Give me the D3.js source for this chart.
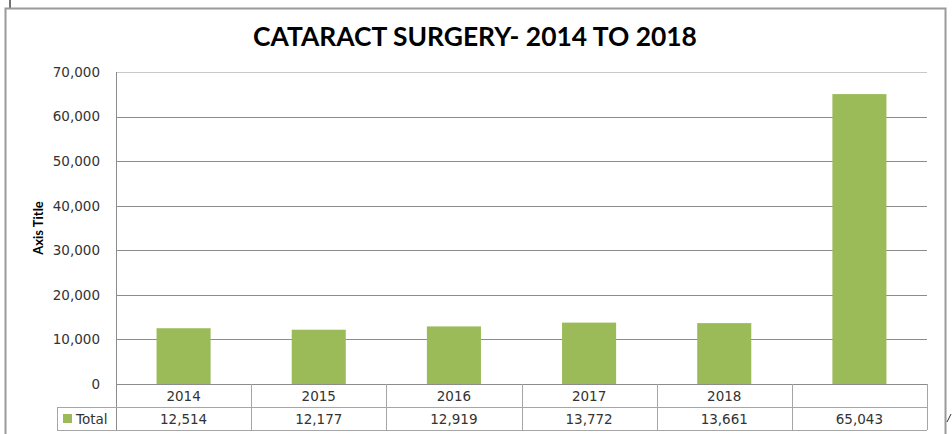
<!DOCTYPE html>
<head>
  <meta charset="utf-8">
  <title>Cataract Surgery 2014 to 2018</title>
  <style>
  body { margin: 0; background: #fff; }
  .title { font: bold 26.4px Lato, sans-serif; fill: #000; }
  .tick text, .cell { font: 13.5px "DejaVu Sans", sans-serif; fill: #333; }
  .axisLabel { font: bold 13px Lato, sans-serif; fill: #000; }
  </style>
</head>
<body>
  <script src="https://cdn.jsdelivr.net/npm/d3@7"></script>
  <script>
    // values
    const categories = ["2014", "2015", "2016", "2017", "2018", ""];
    const totals = [12514, 12177, 12919, 13772, 13661, 65043];
    const yTicks = [0, 10000, 20000, 30000, 40000, 50000, 60000, 70000];
    const seriesName = "Total";

    const width = 952, height = 434;
    const plot = { left: 116, right: 927, top: 72, bottom: 384 };
    const rowH = 23;
    const green = "#9bbb59";

    const svg = d3.select("body").append("svg")
      .attr("width", width)
      .attr("height", height);

    // chart frame
    svg.append("line")
      .attr("x1", 10).attr("x2", 10).attr("y1", 0).attr("y2", 8)
      .attr("stroke", "#444").attr("stroke-width", 1.5);
    svg.append("rect")
      .attr("x", 5.5).attr("y", 8.5)
      .attr("width", 940).attr("height", 440)
      .attr("fill", "#fff")
      .attr("stroke", "#9a9a9a").attr("stroke-width", 2);
    svg.append("line")
      .attr("x1", 947).attr("y1", 422).attr("x2", 951).attr("y2", 414)
      .attr("stroke", "#333").attr("stroke-width", 1);

    const x = d3.scaleBand()
      .domain(d3.range(categories.length))
      .range([plot.left, plot.right])
      .padding(0);
    const y = d3.scaleLinear()
      .domain([0, 70000])
      .range([plot.bottom, plot.top]);

    // gridlines
    svg.append("g")
      .selectAll("line")
      .data(yTicks)
      .enter()
      .append("line")
      .attr("x1", plot.left).attr("x2", plot.right)
      .attr("y1", d => Math.round(y(d)) + 0.5)
      .attr("y2", d => Math.round(y(d)) + 0.5)
      .attr("stroke", d => d === 70000 ? "#c8c8c8" : "#8c8c8c");

    // y axis labels
    const yAxis = d3.axisLeft(y)
      .tickValues(yTicks)
      .tickFormat(d3.format(","))
      .tickSize(0)
      .tickPadding(16);
    svg.append("g")
      .attr("transform", `translate(${plot.left},0)`)
      .call(yAxis)
      .call(g => g.select(".domain").remove());

    svg.append("line")
      .attr("x1", plot.left + 0.5).attr("x2", plot.left + 0.5)
      .attr("y1", plot.top).attr("y2", plot.bottom + 2 * rowH)
      .attr("stroke", "#8c8c8c");

    svg.append("text")
      .attr("class", "axisLabel")
      .attr("transform", `translate(43,228) rotate(-90)`)
      .attr("text-anchor", "middle")
      .text("Axis Title");

    // bars
    svg.append("g")
      .selectAll("rect")
      .data(totals)
      .enter()
      .append("rect")
      .attr("x", (d, i) => x(i) + x.bandwidth() * 0.3)
      .attr("width", x.bandwidth() * 0.4)
      .attr("y", d => y(d))
      .attr("height", d => y(0) - y(d))
      .attr("fill", green);

    // data table
    const table = svg.append("g").attr("stroke", "#a6a6a6").attr("fill", "none");
    table.append("line")
      .attr("x1", plot.left).attr("x2", plot.right)
      .attr("y1", plot.bottom + 0.5).attr("y2", plot.bottom + 0.5)
      .attr("stroke", "#8c8c8c");
    table.append("line")
      .attr("x1", 57).attr("x2", plot.right)
      .attr("y1", plot.bottom + rowH + 0.5).attr("y2", plot.bottom + rowH + 0.5);
    table.append("line")
      .attr("x1", 57).attr("x2", plot.right)
      .attr("y1", plot.bottom + 2 * rowH + 0.5).attr("y2", plot.bottom + 2 * rowH + 0.5);
    table.append("line")
      .attr("x1", 57.5).attr("x2", 57.5)
      .attr("y1", plot.bottom + rowH).attr("y2", plot.bottom + 2 * rowH);
    table.selectAll(".sep")
      .data(d3.range(1, categories.length + 1))
      .enter()
      .append("line")
      .attr("class", "sep")
      .attr("x1", i => Math.round(i < categories.length ? x(i) : plot.right) + 0.5)
      .attr("x2", i => Math.round(i < categories.length ? x(i) : plot.right) + 0.5)
      .attr("y1", plot.bottom).attr("y2", plot.bottom + 2 * rowH);

    svg.append("g")
      .selectAll("text")
      .data(categories)
      .enter()
      .append("text")
      .attr("class", "cell")
      .attr("x", (d, i) => x(i) + x.bandwidth() / 2)
      .attr("y", plot.bottom + 17)
      .attr("text-anchor", "middle")
      .text(d => d);

    svg.append("g")
      .selectAll("text")
      .data(totals)
      .enter()
      .append("text")
      .attr("class", "cell")
      .attr("x", (d, i) => x(i) + x.bandwidth() / 2)
      .attr("y", plot.bottom + rowH + 17)
      .attr("text-anchor", "middle")
      .text(d => d3.format(",")(d));

    // legend key
    svg.append("rect")
      .attr("x", 63).attr("y", 414)
      .attr("width", 9).attr("height", 9)
      .attr("fill", green);
    svg.append("text")
      .attr("class", "cell")
      .attr("x", 76)
      .attr("y", plot.bottom + rowH + 17)
      .text(seriesName);

    // title
    svg.append("text")
      .attr("class", "title")
      .attr("x", 475)
      .attr("y", 46)
      .attr("text-anchor", "middle")
      .text("CATARACT SURGERY- 2014 TO 2018");
  </script>
</body>
